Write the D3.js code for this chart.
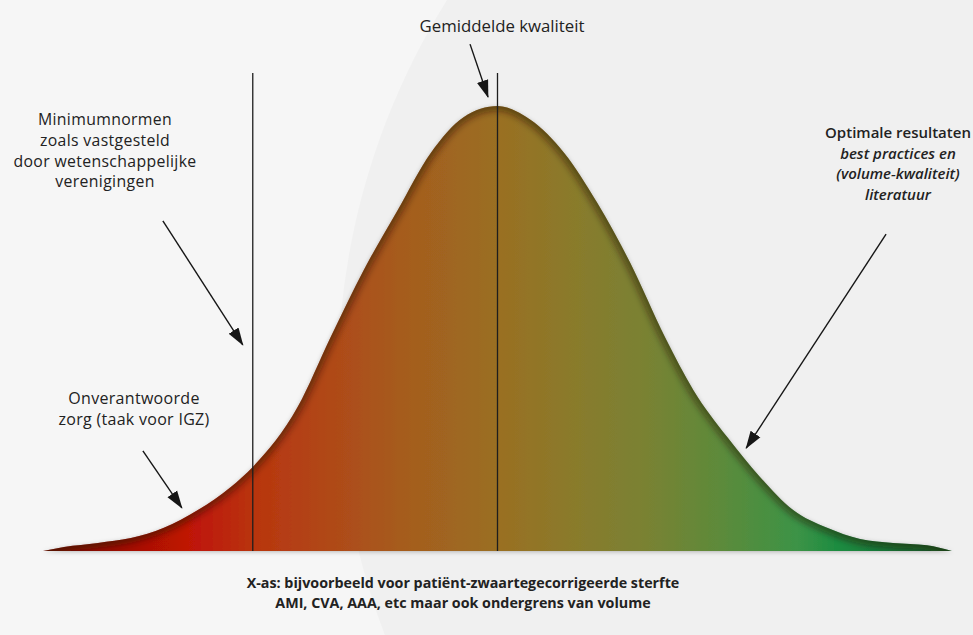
<!DOCTYPE html>
<html>
<head>
<meta charset="utf-8">
<script src="https://cdn.jsdelivr.net/npm/d3@7"></script>
<style>
  body { margin: 0; background: #f6f6f6; }
  svg text { font-family: "Open Sans", "Noto Sans", sans-serif; fill: #222; }
</style>
</head>
<body>
<svg id="chart" width="973" height="635"></svg>
<script>
// quality axis (x, in spread units) and relative frequency (0..100) of the bell curve
const curveX = [-4.55, -4.34, -4.0, -3.67, -3.34, -3.0, -2.67, -2.45, -2.0, -1.67, -1.34, -1.0, -0.67, -0.34, 0,
                0.33, 0.67, 1.0, 1.33, 1.68, 1.96, 2.3, 2.63, 2.96, 3.3, 3.63, 3.96, 4.3, 4.55];
const curveY = [0, 0.9, 1.8, 2.9, 5.2, 9.2, 14.4, 18.9, 32.4, 48.1, 63.1, 76.6, 89.4, 97.5, 100,
                96.9, 89.4, 78.2, 64.7, 47.9, 36.2, 25.6, 16.6, 9.2, 5.2, 2.7, 1.8, 1.3, 0];

// vertical markers: minimum norm and mean
const markerX = [-2.45, 0];
const markerTop = 107.4;

// colour along the quality axis
const stopX = [-4.55, -3.1, -2.4, -1.7, -1.0, 0, 0.7, 1.5, 2.2, 3.0, 3.4, 4.0, 4.55];
const stopColor = ["#7e0b04", "#bf1306", "#b8360f", "#b04818", "#a65b1e", "#9a6f22", "#8b7a2b",
                   "#798233", "#5e8a3a", "#3c9346", "#1d8c41", "#167636", "#145f29"];

// annotation arrows [fromX, fromY, toX, toY] in chart units
const arrows = [
  [-0.275, 113.9, -0.095, 102.0],
  [-3.35, 74.2, -2.55, 46.3],
  [-3.55, 22.5, -3.16, 9.7],
  [3.89, 71.2, 2.49, 23.1]
];

const labelMean = ["Gemiddelde kwaliteit"];
const labelMin = ["Minimumnormen", "zoals vastgesteld", "door wetenschappelijke", "verenigingen"];
const labelIgz = ["Onverantwoorde", "zorg (taak voor IGZ)"];
const labelOpt = ["Optimale resultaten", "best practices en", "(volume-kwaliteit)", "literatuur"];
const axisTitle = ["X-as: bijvoorbeeld voor patiënt-zwaartegecorrigeerde sterfte",
                   "AMI, CVA, AAA, etc maar ook ondergrens van volume"];

const width = 973, height = 635;
const svg = d3.select("#chart");

const x = d3.scaleLinear().domain([-4.55, 4.55]).range([43, 952]);
const y = d3.scaleLinear().domain([0, 100]).range([551, 106]);

const data = curveX.map((v, i) => ({ x: v, y: curveY[i] }));

const area = d3.area().x(d => x(d.x)).y0(y(0)).y1(d => y(d.y)).curve(d3.curveMonotoneX);
const line = d3.line().x(d => x(d.x)).y(d => y(d.y)).curve(d3.curveMonotoneX);

const defs = svg.append("defs");

const grad = defs.append("linearGradient")
  .attr("id", "qual")
  .attr("gradientUnits", "userSpaceOnUse")
  .attr("x1", x(-4.55)).attr("x2", x(4.55)).attr("y1", 0).attr("y2", 0);
grad.selectAll("stop")
  .data(stopX)
  .join("stop")
  .attr("offset", d => (x(d) - x(-4.55)) / (x(4.55) - x(-4.55)))
  .attr("stop-color", (d, i) => stopColor[i]);

const drop = defs.append("filter").attr("id", "drop")
  .attr("x", "-5%").attr("y", "-5%").attr("width", "110%").attr("height", "115%");
drop.append("feDropShadow")
  .attr("dx", 0).attr("dy", 1).attr("stdDeviation", 2)
  .attr("flood-color", "#000").attr("flood-opacity", 0.25);

defs.append("filter").attr("id", "soft")
  .append("feGaussianBlur").attr("stdDeviation", 3.5);

defs.append("clipPath").attr("id", "areaClip")
  .append("path").attr("d", area(data));

defs.append("marker")
  .attr("id", "head")
  .attr("markerUnits", "userSpaceOnUse")
  .attr("markerWidth", 18).attr("markerHeight", 14)
  .attr("viewBox", "0 -6 17 12")
  .attr("refX", 16).attr("refY", 0)
  .attr("orient", "auto")
  .append("path")
  .attr("d", "M0,-5.5L17,0L0,5.5Z")
  .attr("fill", "#161616");

// background with the large light circle on the right
svg.append("rect").attr("width", width).attr("height", height).attr("fill", "#f6f6f6");
svg.append("circle").attr("cx", 1055).attr("cy", 380).attr("r", 717).attr("fill", "#f0f0f0");

// bell curve
svg.append("path")
  .attr("d", area(data))
  .attr("fill", "url(#qual)")
  .attr("filter", "url(#drop)");

// inner shade along the top edge
svg.append("g")
  .attr("clip-path", "url(#areaClip)")
  .append("path")
  .attr("d", line(data))
  .attr("fill", "none")
  .attr("stroke", "#2a1600")
  .attr("stroke-width", 9)
  .attr("stroke-opacity", 0.55)
  .attr("filter", "url(#soft)");

// vertical markers
svg.append("g")
  .selectAll("line")
  .data(markerX)
  .join("line")
  .attr("x1", d => x(d)).attr("x2", d => x(d))
  .attr("y1", y(markerTop)).attr("y2", y(0))
  .attr("stroke", "#1e1e1e")
  .attr("stroke-width", 1.3);

// arrows
svg.append("g")
  .selectAll("line")
  .data(arrows)
  .join("line")
  .attr("x1", d => x(d[0])).attr("y1", d => y(d[1]))
  .attr("x2", d => x(d[2])).attr("y2", d => y(d[3]))
  .attr("stroke", "#161616")
  .attr("stroke-width", 1.4)
  .attr("marker-end", "url(#head)");

// text blocks
function block(lines, cx, y0, lh, size, weight, style, stretch, spacing) {
  const t = svg.append("text")
    .attr("text-anchor", "middle")
    .style("font-size", size + "px")
    .style("font-stretch", stretch || "100%")
    .style("letter-spacing", (spacing || 0) + "px");
  lines.forEach((s, i) => {
    t.append("tspan")
      .attr("x", cx)
      .attr("y", y0 + i * lh)
      .style("font-weight", weight(i))
      .style("font-style", style(i))
      .text(s);
  });
  return t;
}

block(labelMean, 502, 32, 0, 16.8, () => 400, () => "normal");
block(labelMin, 105, 125, 20.8, 15.8, () => 400, () => "normal", "100%", 0.35);
block(labelIgz, 134, 404, 21, 16, () => 400, () => "normal", "100%", 0.3);
block(labelOpt, 898, 138, 20.5, 15, () => 600, i => i === 0 ? "normal" : "italic");
block(axisTitle, 463, 588, 19.5, 14.3, () => 700, () => "normal", "96%");
</script>
</body>
</html>
